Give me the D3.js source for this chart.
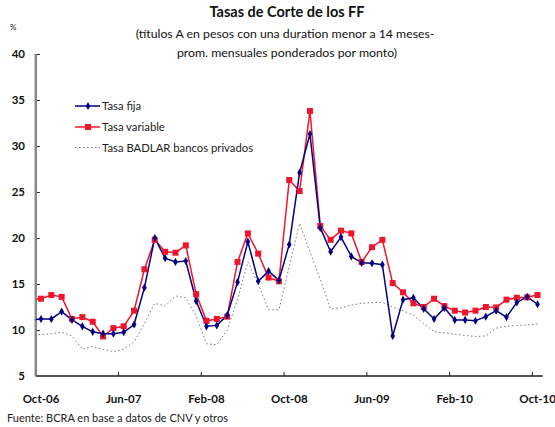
<!DOCTYPE html>
<html>
<head>
<meta charset="utf-8">
<script src="https://cdn.jsdelivr.net/npm/d3@7"></script>
<style>
  body { margin: 0; background: #fff; }
  svg { font-family: Lato, "Open Sans", sans-serif; }
</style>
</head>
<body>
<script>
// months (Sep-06 sits left of the axis and is clipped, like the original)
var months = ["Sep-06","Oct-06","Nov-06","Dic-06","Ene-07","Feb-07","Mar-07","Abr-07","May-07","Jun-07","Jul-07","Ago-07","Sep-07","Oct-07","Nov-07","Dic-07",
  "Ene-08","Feb-08","Mar-08","Abr-08","May-08","Jun-08","Jul-08","Ago-08","Sep-08","Oct-08","Nov-08","Dic-08",
  "Ene-09","Feb-09","Mar-09","Abr-09","May-09","Jun-09","Jul-09","Ago-09","Sep-09","Oct-09","Nov-09","Dic-09",
  "Ene-10","Feb-10","Mar-10","Abr-10","May-10","Jun-10","Jul-10","Ago-10","Sep-10","Oct-10"];
var tickLabels = ["Oct-06","Jun-07","Feb-08","Oct-08","Jun-09","Feb-10","Oct-10"];
var tickMonths = ["Oct-06","Jun-07","Feb-08","Oct-08","Jun-09","Feb-10","Oct-10"];

var tasaFija = [11.1, 11.2,11.2,12.0,11.1,10.4,9.8,9.6,9.6,9.75,10.6,14.6,20.0,17.8,17.4,17.5,13.15,10.4,10.5,11.6,15.2,19.6,15.3,16.4,15.4,
  19.3,27.1,31.3,21.1,18.5,20.1,18.0,17.3,17.25,17.1,9.35,13.3,13.5,12.3,11.2,12.4,11.1,11.1,11.0,11.45,12.1,11.4,13.0,13.6,12.8];
var tasaVariable = [13.35, 13.4,13.8,13.6,11.2,11.4,10.9,9.3,10.2,10.4,12.1,16.6,19.8,18.5,18.4,19.2,13.9,11.0,11.2,11.45,17.4,20.5,18.3,15.7,15.3,
  26.3,25.1,33.8,21.3,19.8,20.8,20.5,17.4,19.0,19.8,15.1,14.1,12.9,12.5,13.4,12.6,12.1,11.9,12.1,12.5,12.45,13.3,13.5,13.55,13.8];
var badlar = [9.45, 9.5,9.6,9.75,9.35,7.9,8.2,7.9,7.65,7.9,8.7,10.7,12.9,12.6,13.7,13.5,11.5,8.5,8.4,10.0,13.3,17.4,15.0,12.2,12.2,
  16.9,21.6,18.5,15.5,12.3,12.4,12.7,12.9,13.0,13.0,12.5,12.1,11.6,10.7,9.8,9.7,9.55,9.4,9.3,9.35,10.2,10.4,10.5,10.55,10.65];
var yTicks = [5,10,15,20,25,30,35,40];

var W = 555, H = 427;
var svg = d3.select("body").append("svg").attr("width", W).attr("height", H);

var plotL = 35.8, plotR = 542.7, plotT = 54, plotB = 376;
var bw = (plotR - plotL) / (months.length - 1);

var x = d3.scaleBand().domain(months).range([plotL - bw, plotR]);
var y = d3.scaleLinear().domain([5, 40]).range([plotB, plotT]);
var cx = function(m) { return x(m) + x.bandwidth() / 2; };

svg.append("clipPath").attr("id", "plot")
  .append("rect").attr("x", plotL).attr("y", 0).attr("width", plotR - plotL + 5).attr("height", plotB + 5);

// titles
svg.append("text").attr("x", 287).attr("y", 17).attr("text-anchor", "middle")
  .attr("font-weight", "bold").attr("font-size", 14.5).attr("fill", "#111").text("Tasas de Corte de los FF");
svg.append("text").attr("x", 285).attr("y", 38).attr("text-anchor", "middle")
  .attr("font-size", 12.3).attr("fill", "#111").text("(títulos A en pesos con una duration menor a 14 meses-");
svg.append("text").attr("x", 287).attr("y", 57).attr("text-anchor", "middle")
  .attr("font-size", 12.3).attr("fill", "#111").text("prom. mensuales ponderados por monto)");
svg.append("text").attr("x", 10).attr("y", 30).attr("font-size", 8).attr("fill", "#222").text("%");
svg.append("text").attr("x", 7).attr("y", 422).attr("font-size", 11).attr("fill", "#222")
  .text("Fuente: BCRA en base a datos de CNV y otros");

// y axis
var yAxis = d3.axisRight(y).tickValues(yTicks).tickSize(4).tickFormat("");
var gy = svg.append("g").attr("transform", "translate(" + plotL + ",0)").call(yAxis);
gy.select(".domain").remove();
gy.selectAll(".tick line").attr("stroke", "#222");
svg.append("line").attr("x1", plotL).attr("x2", plotL).attr("y1", plotT).attr("y2", plotB)
  .attr("stroke", "#888").attr("stroke-width", 2.5);
svg.selectAll(".ylab").data(yTicks).enter().append("text")
  .attr("class", "ylab").attr("x", 25).attr("y", function(d) { return y(d) + 4; })
  .attr("text-anchor", "end").attr("font-weight", "bold").attr("font-size", 11.5).attr("fill", "#111")
  .text(function(d) { return d; });

// x axis: ticks at category boundaries, labels at category centres
svg.append("line").attr("x1", plotL).attr("x2", plotR).attr("y1", plotB).attr("y2", plotB)
  .attr("stroke", "#555").attr("stroke-width", 2);
svg.selectAll(".xt").data(tickMonths.slice(1)).enter().append("line")
  .attr("class", "xt")
  .attr("x1", function(d) { return x(d); }).attr("x2", function(d) { return x(d); })
  .attr("y1", plotB - 4).attr("y2", plotB).attr("stroke", "#222");
svg.selectAll(".xlab").data(tickMonths).enter().append("text")
  .attr("class", "xlab").attr("x", function(d) { return cx(d); }).attr("y", 403)
  .attr("text-anchor", "middle").attr("font-weight", "bold").attr("font-size", 11.5).attr("fill", "#111")
  .text(function(d, i) { return tickLabels[i]; });

var g = svg.append("g").attr("clip-path", "url(#plot)");

function lineOf(vals) {
  return d3.line().x(function(d, i) { return cx(months[i]); }).y(function(d) { return y(d); })(vals);
}

var red = "#f0142d", navy = "#000080";

g.append("path").attr("d", lineOf(badlar)).attr("fill", "none")
  .attr("stroke", "#777").attr("stroke-width", 1).attr("stroke-dasharray", "1.5,2.5");
g.append("path").attr("d", lineOf(tasaVariable)).attr("fill", "none")
  .attr("stroke", red).attr("stroke-width", 1.5);
g.append("path").attr("d", lineOf(tasaFija)).attr("fill", "none")
  .attr("stroke", navy).attr("stroke-width", 1.5);

g.selectAll(".sq").data(tasaVariable).enter().append("rect")
  .attr("x", function(d, i) { return cx(months[i]) - 3; })
  .attr("y", function(d) { return y(d) - 3; })
  .attr("width", 6).attr("height", 6).attr("fill", red);
g.selectAll(".dm").data(tasaFija).enter().append("path")
  .attr("d", d3.symbol().type(d3.symbolDiamond).size(19))
  .attr("transform", function(d, i) { return "translate(" + cx(months[i]) + "," + y(d) + ")"; })
  .attr("fill", navy);

// legend
var leg = [
  { name: "Tasa fija", y: 106, color: navy, kind: "diamond" },
  { name: "Tasa variable", y: 127, color: red, kind: "square" },
  { name: "Tasa BADLAR bancos privados", y: 147.5, color: "#777", kind: "dot" }
];
leg.forEach(function(l) {
  var ln = svg.append("line").attr("x1", 75).attr("x2", 100).attr("y1", l.y).attr("y2", l.y)
    .attr("stroke", l.color).attr("stroke-width", l.kind === "dot" ? 1 : 1.5);
  if (l.kind === "dot") ln.attr("stroke-dasharray", "1.5,2.5");
  if (l.kind === "diamond") svg.append("path").attr("d", d3.symbol().type(d3.symbolDiamond).size(19))
    .attr("transform", "translate(88," + l.y + ")").attr("fill", l.color);
  if (l.kind === "square") svg.append("rect").attr("x", 85).attr("y", l.y - 3).attr("width", 6).attr("height", 6).attr("fill", l.color);
  svg.append("text").attr("x", 102).attr("y", l.y + 4).attr("font-size", 11.3).attr("fill", "#222").text(l.name);
});
</script>
</body>
</html>
